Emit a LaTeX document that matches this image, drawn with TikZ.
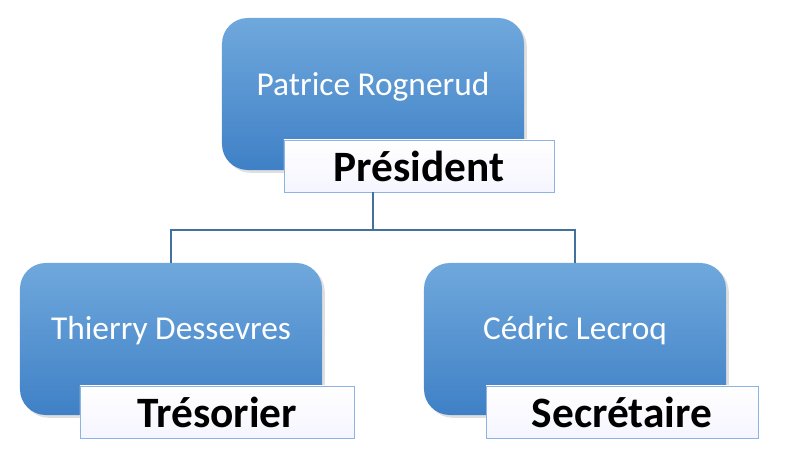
\documentclass[tikz,border=0pt]{standalone}
\usepackage{fontspec}
\setmainfont{Carlito}
\usetikzlibrary{shadows}
\definecolor{boxtop}{HTML}{6FA8DC}
\definecolor{boxbot}{HTML}{3F80C6}
\definecolor{linkcol}{HTML}{41719C}
\definecolor{tagedge}{HTML}{8DB3E2}
\tikzset{
  person/.style={draw=none, rounded corners=22pt, top color=boxtop, bottom color=boxbot,
    minimum width=9.06cm, minimum height=4.56cm, drop shadow={opacity=0.25}},
  fullname/.style={text=white, font=\fontsize{28.5}{32}\selectfont},
  role/.style={draw=tagedge, top color=white, bottom color=blue!4, minimum width=8.1cm,
    minimum height=1.56cm, font=\bfseries\fontsize{37}{40}\selectfont, inner sep=0pt},
  link/.style={draw=linkcol, line width=0.9pt}
}
\begin{document}
\begin{tikzpicture}[x=0.03cm, y=-0.03cm]
  \useasboundingbox (0,0) rectangle (786,458);

  \node[person] (boxp) at (373,94) {};
  \node[fullname] (namep) at (373,87) {Patrice Rognerud};
  \node[role] (rolep) at (419,166) {Président};

  \node[person] (boxt) at (171,339) {};
  \node[fullname] (namet) at (171,331) {Thierry Dessevres};
  \node[role, minimum width=8.22cm] (rolet) at (217,412) {Trésorier};

  \node[person] (boxs) at (575,339) {};
  \node[fullname] (names) at (575,331) {Cédric Lecroq};
  \node[role, minimum width=8.16cm] (roles) at (622,412) {Secrétaire};

  \coordinate (hub) at (373,230);
  \draw[link] (rolep.south -| hub) -- (hub);
  \draw[link] (hub) -| (boxt.north);
  \draw[link] (hub) -| (boxs.north);
\end{tikzpicture}
\end{document}
